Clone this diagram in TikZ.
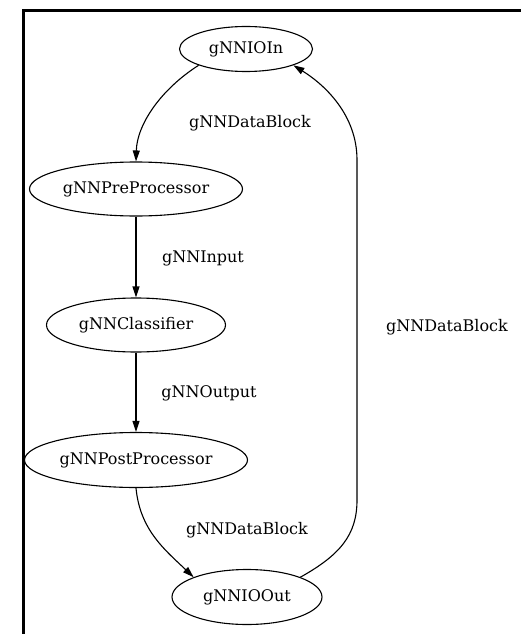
\documentclass[tikz,border=0pt]{standalone}
\usepackage{fontspec}
\setmainfont{DejaVu Serif}
\usetikzlibrary{shapes.geometric,arrows.meta}

\begin{document}
\begin{tikzpicture}
  [x=1pt,y=-1pt,
   blob/.style={ellipse,draw,line width=1.1pt,inner sep=0pt,font=\fontsize{16}{18}\selectfont},
   tag/.style={inner sep=0pt,font=\fontsize{16}{18}\selectfont},
   flow/.style={line width=1.1pt,-{Triangle[length=11pt,width=7pt]}}]

  \useasboundingbox (0,0) rectangle (521,634);
  \draw[line width=3pt] (23.5,634) -- (23.5,11) -- (521,11);

  \node[blob,minimum width=133pt,minimum height=45pt] (iin) at (246,49) {gNNIOIn};
  \node[blob,minimum width=213pt,minimum height=54pt] (pre) at (136,189) {gNNPreProcessor};
  \node[blob,minimum width=179pt,minimum height=54pt] (cls) at (136,325) {gNNClassifier};
  \node[blob,minimum width=223pt,minimum height=55pt] (post) at (136,460) {gNNPostProcessor};
  \node[blob,minimum width=150pt,minimum height=55pt] (iout) at (247,597) {gNNIOOut};

  \node[tag] (t1) at (250,123) {gNNDataBlock};
  \node[tag] (t2) at (203,258) {gNNInput};
  \node[tag] (t3) at (209,393) {gNNOutput};
  \node[tag] (t4) at (247,530) {gNNDataBlock};
  \node[tag] (t5) at (447,327) {gNNDataBlock};

  \coordinate (up1) at (357,500);
  \coordinate (up2) at (357,160);

  \foreach \from/\to in {pre/cls,cls/post}
    \draw[flow] (\from) -- (\to);
  \draw[flow] (iin.south west) .. controls (160,90) and (137,125) .. (pre.north);
  \draw[flow] (post.south) .. controls (140,530) and (165,550) .. (iout.north west);
  \draw[flow] (iout.north east) .. controls (340,555) and (357,535) .. (up1)
    -- (up2) .. controls (357,115) and (325,85) .. (iin.south east);
\end{tikzpicture}
\end{document}
